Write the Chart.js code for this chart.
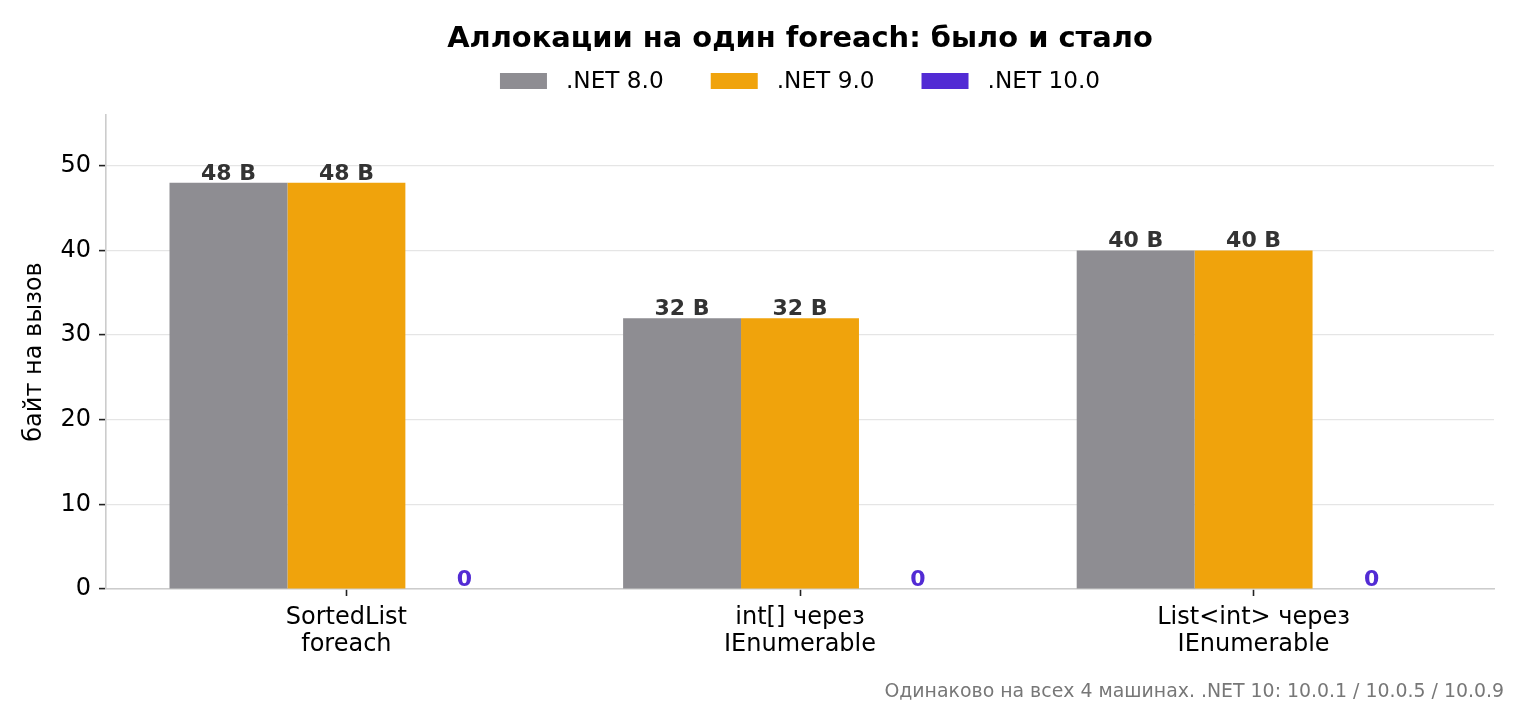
<!DOCTYPE html>
<html>
<head>
<meta charset="utf-8">
<title>Аллокации на один foreach</title>
<script src="https://cdn.jsdelivr.net/npm/chart.js@4/dist/chart.umd.min.js"></script>
<style>
  html, body { margin: 0; padding: 0; background: #ffffff; }
  #wrap { width: 1520px; height: 704px; }
</style>
</head>
<body>
<div id="wrap"><canvas id="allocChart" width="1520" height="704"></canvas></div>
<script>
// Data
const categories = ["SortedList\nforeach", "int[] через\nIEnumerable", "List<int> через\nIEnumerable"];
const seriesNames = [".NET 8.0", ".NET 9.0", ".NET 10.0"];
const net8 = [48, 32, 40];
const net9 = [48, 32, 40];
const net10 = [0, 0, 0];
const yTicks = [0, 10, 20, 30, 40, 50];

const chartTitle = "Аллокации на один foreach: было и стало";
const yTitle = "байт на вызов";
const footNote = "Одинаково на всех 4 машинах. .NET 10: 10.0.1 / 10.0.5 / 10.0.9";

const colors = ["#8e8d92", "#f0a30c", "#522bd4"];
const FONT = "'DejaVu Sans', sans-serif";

const toPoints = arr => arr.map((v, i) => ({ x: i, y: v }));

// legend, value labels and footnote
const extrasPlugin = {
  id: "extras",
  afterDatasetsDraw(chart) {
    const ctx = chart.ctx;
    ctx.save();
    ctx.textAlign = "center";
    ctx.textBaseline = "alphabetic";
    ctx.font = "bold 22px " + FONT;
    chart.data.datasets.forEach((ds, di) => {
      const meta = chart.getDatasetMeta(di);
      meta.data.forEach((bar, i) => {
        const v = ds.data[i].y;
        ctx.fillStyle = v === 0 ? ds.backgroundColor : "#333333";
        ctx.fillText(v === 0 ? "0" : v + " B", bar.x, bar.y - 3);
      });
    });
    ctx.restore();
  },
  afterDraw(chart) {
    const ctx = chart.ctx;
    const area = chart.chartArea;
    ctx.save();
    // legend
    ctx.font = "23.2px " + FONT;
    ctx.textBaseline = "middle";
    ctx.textAlign = "left";
    const boxW = 47, boxH = 16, gap = 19, spacing = 47;
    const items = chart.data.datasets.map(ds => ({
      label: ds.label, color: ds.backgroundColor,
      w: boxW + gap + ctx.measureText(ds.label).width
    }));
    const total = items.reduce((s, it) => s + it.w, 0) + spacing * (items.length - 1);
    let x = (area.left + area.right) / 2 - total / 2;
    const cy = 81;
    items.forEach(it => {
      ctx.fillStyle = it.color;
      ctx.fillRect(x, cy - boxH / 2, boxW, boxH);
      ctx.fillStyle = "#000000";
      ctx.fillText(it.label, x + boxW + gap, cy + 1);
      x += it.w + spacing;
    });
    // footnote
    ctx.font = "18.9px " + FONT;
    ctx.fillStyle = "#777777";
    ctx.textAlign = "right";
    ctx.textBaseline = "alphabetic";
    ctx.fillText(footNote, 1504, 697);
    ctx.restore();
  }
};

const ctx = document.getElementById("allocChart").getContext("2d");
new Chart(ctx, {
  type: "bar",
  data: {
    datasets: [
      { label: seriesNames[0], data: toPoints(net8), backgroundColor: colors[0] },
      { label: seriesNames[1], data: toPoints(net9), backgroundColor: colors[1] },
      { label: seriesNames[2], data: toPoints(net10), backgroundColor: colors[2] },
    ],
  },
  options: {
    responsive: false,
    devicePixelRatio: 1,
    animation: false,
    categoryPercentage: 0.78,
    barPercentage: 1.0,
    borderWidth: 0,
    layout: { padding: { left: 0, right: 26, top: 0, bottom: 0 } },
    plugins: {
      legend: { display: false },
      tooltip: { enabled: false },
      title: {
        display: true,
        text: chartTitle,
        fullSize: false,
        color: "#000000",
        font: { family: FONT, size: 28.9, weight: "bold", lineHeight: 1.2 },
        padding: { top: 22.4, bottom: 57.9 },
      },
    },
    scales: {
      x: {
        type: "linear",
        min: -0.53,
        max: 2.53,
        offset: false,
        afterBuildTicks: scale => {
          scale.ticks = categories.map((c, i) => ({ value: i }));
        },
        afterFit: scale => {
          scale.height = 115;
          scale.paddingLeft = 0;
          scale.paddingRight = 0;
        },
        ticks: {
          autoSkip: false,
          maxRotation: 0,
          padding: 8,
          color: "#000000",
          font: { family: FONT, size: 24, lineHeight: 1.13 },
          callback: value => categories[value] ? categories[value].split("\n") : "",
        },
        grid: {
          offset: false,
          drawOnChartArea: false,
          drawTicks: true,
          tickLength: 7,
          tickColor: "#222222",
          tickWidth: 1.6,
        },
        border: { color: "#cccccc", width: 1.6 },
      },
      y: {
        min: 0,
        max: 56,
        afterBuildTicks: scale => {
          scale.ticks = yTicks.map(v => ({ value: v }));
        },
        afterFit: scale => {
          scale.width = 106;
        },
        ticks: {
          padding: 8,
          color: "#000000",
          font: { family: FONT, size: 24 },
        },
        grid: {
          color: "#e5e5e5",
          lineWidth: 1.2,
          drawTicks: true,
          tickLength: 7,
          tickColor: "#222222",
          tickWidth: 1.6,
        },
        border: { color: "#cccccc", width: 1.6 },
        title: {
          display: true,
          text: yTitle,
          color: "#000000",
          font: { family: FONT, size: 24, lineHeight: 1.2 },
          padding: { top: 20.6, bottom: 0 },
        },
      },
    },
  },
  plugins: [extrasPlugin],
});
</script>
</body>
</html>
